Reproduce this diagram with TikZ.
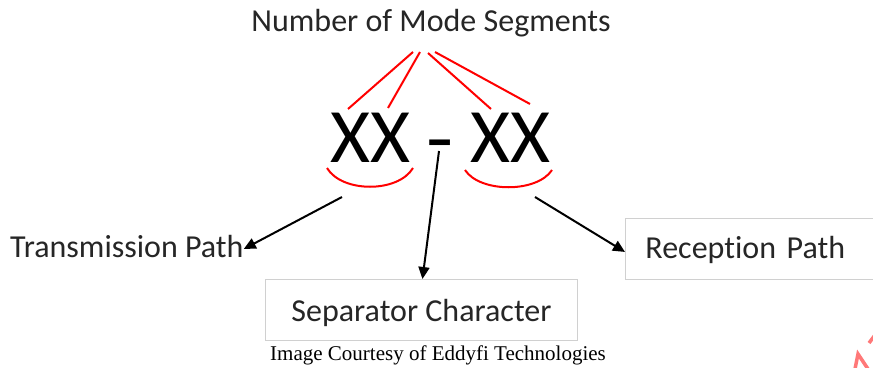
\documentclass[tikz,border=0pt]{standalone}
\usepackage{fontspec}
\setmainfont{Carlito}[Ligatures={NoCommon,NoRequired,NoContextual}]
\newfontfamily\capfont{Liberation Serif}
\usetikzlibrary{arrows.meta}
\definecolor{boxgray}{RGB}{208,208,208}
\definecolor{logored}{RGB}{255,120,120}
\tikzset{
  lbl/.style={inner sep=0pt, font=\fontsize{32}{38}\selectfont, text=black!85},
  big/.style={inner sep=0pt, font=\fontsize{77}{80}\selectfont},
  boxed/.style={draw=boxgray, line width=0.9pt, inner ysep=0pt, font=\fontsize{32}{38}\selectfont, text=black!85},
  redline/.style={draw=red, line width=2pt},
  arr/.style={draw=black, line width=2pt, -{Triangle[length=12pt,width=11pt]}}
}
\begin{document}
\begin{tikzpicture}[x=1pt,y=-1pt]
\clip (0,0) rectangle (873,367);
\fill[white] (0,0) rectangle (873,367);
% labels
\node[lbl, anchor=base] (title) at (431,31) {Number of Mode Segments};
\node[big, anchor=base] (xxl) at (370,162) {XX};
\node[big, anchor=base] (xxr) at (510,162) {XX};
\node[big, anchor=base] (dash) at (440,164) {\scalebox{1.15}[1]{-}};
\node[lbl, anchor=base west] (tp) at (10,257) {Transmission Path};
\node[boxed, anchor=north west, minimum height=61pt, text width=220pt, inner xsep=20pt, align=left, text height=19pt, text depth=0pt] (rp) at (625,218) {Reception Path};
\node[boxed, anchor=north west, minimum height=61pt, minimum width=312pt, text height=23pt, text depth=0pt] (sep) at (265,279) {Separator Character};
\node[anchor=base, inner sep=0pt, font=\capfont\fontsize{21}{24}\selectfont] (cap) at (438,360) {Image Courtesy of Eddyfi Technologies};
% red lines from title to digits
\draw[redline] (413,52) -- (348,109);
\draw[redline] (420,52) -- (388,108);
\draw[redline] (428,53) -- (491,109);
\draw[redline] (435,52) -- (530,104);
% red braces under digits
\draw[redline] (327,168) .. controls (342,193) and (398,193) .. (413,168);
\draw[redline] (465,170) .. controls (480,193) and (537,193) .. (552,170);
% arrows
\coordinate (tpstart) at (342,197);
\coordinate (sepstart) at (439,151);
\coordinate (rpstart) at (535,197);
\draw[arr] (tpstart) -- ([yshift=-3pt]tp.east);
\draw[arr] (sepstart) -- ([xshift=1pt]sep.north);
\draw[arr] (rpstart) -- ([yshift=-3pt]rp.west);
% partial logo at corner
\draw[logored, line width=3.5pt] (855,369) -- (858,354) -- (868,369);
\draw[logored, line width=3.5pt] (869,343) -- (875,335);
\end{tikzpicture}
\end{document}
